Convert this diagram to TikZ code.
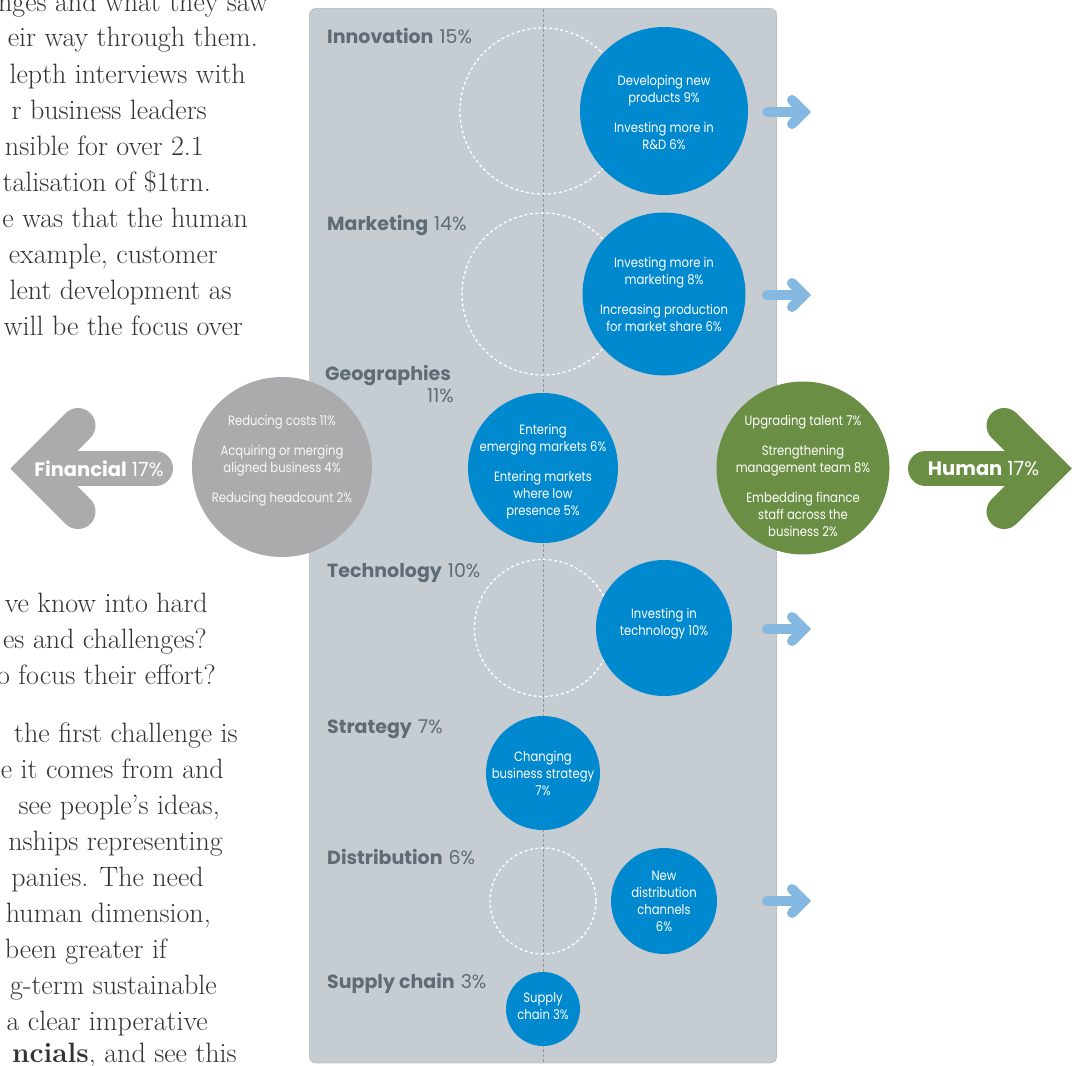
\documentclass[tikz,border=0pt]{standalone}
\usepackage{fontspec}
\newfontfamily\fut[FakeStretch=0.86]{Poppins}
\newfontfamily\futw{Poppins}
\definecolor{panelc}{HTML}{C5CCD2}
\definecolor{pborder}{HTML}{A3A9AE}
\definecolor{clinec}{HTML}{8E959A}
\definecolor{blu}{HTML}{0089CF}
\definecolor{grn}{HTML}{6A8F44}
\definecolor{gry}{HTML}{ABABAE}
\definecolor{lblc}{HTML}{5F6C75}
\definecolor{arrc}{HTML}{85B9E2}
\definecolor{bodyc}{HTML}{333333}
\begin{document}
\begin{tikzpicture}[x=1pt,y=-1pt,
  lbl/.style={font=\futw\fontsize{19}{22}\selectfont, text=lblc, inner sep=0pt},
  arrlbl/.style={font=\futw\fontsize{19.5}{22}\selectfont, text=white, inner sep=0pt},
  ctext/.style={font=\fut\fontsize{13.5}{17}\selectfont, text=white, align=center, inner sep=0pt},
  bodyline/.style={font=\fontsize{28}{36}\selectfont, text=bodyc, anchor=base east, inner sep=0pt},
  dcirc/.style={circle, draw=white, dash pattern=on 3pt off 2.5pt, line width=1.3pt, inner sep=0pt},
  bcirc/.style={circle, fill=blu, inner sep=0pt},
  barrow/.style={arrc, line width=10pt, line cap=round, line join=miter},
  bigarrow/.style={line width=35pt, line cap=round, line join=miter},
]
\useasboundingbox (0,0) rectangle (1078,1065);
\begin{scope}
\clip (0,0) rectangle (1078,1065);

% ---------- body text (left) ----------
\node[bodyline] (t1) at (268,12) {nges and what they saw};
\node[bodyline] (t2) at (258,47) {eir way through them.};
\node[bodyline] (t3) at (246,83) {lepth interviews with};
\node[bodyline] (t4) at (207,119) {r business leaders};
\node[bodyline] (t5) at (204,155) {nsible for over 2.1};
\node[bodyline] (t6) at (211,191) {talisation of \$1trn.};
\node[bodyline] (t7) at (248,227) {e was that the human};
\node[bodyline] (t8) at (218,263) {example, customer};
\node[bodyline] (t9) at (232,299) {lent development as};
\node[bodyline] (t10) at (243,335) {will be the focus over};
\node[bodyline] (u1) at (208,612) {ve know into hard};
\node[bodyline] (u2) at (207,648) {es and challenges?};
\node[bodyline] (u3) at (216,684) {o focus their effort?};
\node[bodyline] (u4) at (238,742) {the first challenge is};
\node[bodyline] (u5) at (224,778) {e it comes from and};
\node[bodyline] (u6) at (220,814) {see people’s ideas,};
\node[bodyline] (u7) at (223,850) {nships representing};
\node[bodyline] (u8) at (204,886) {panies. The need};
\node[bodyline] (u9) at (211,922) {human dimension,};
\node[bodyline] (u10) at (167,958) {been greater if};
\node[bodyline] (u11) at (217,994) {g-term sustainable};
\node[bodyline] (u12) at (208,1030) {a clear imperative};
\node[bodyline] (u13) at (237,1062) {\textbf{ncials}, and see this};

% ---------- panel ----------
\draw[pborder, fill=panelc, dash pattern=on 1pt off 1pt, line width=0.8pt, rounded corners=6pt]
  (309.5,8.5) rectangle (776.5,1063);
\coordinate (ctop) at (543,9);
\coordinate (cbot) at (543,1063);
\draw[clinec, dash pattern=on 3pt off 2pt, line width=0.9pt] (ctop) -- (cbot);

% ---------- dashed ghost circles ----------
\node[dcirc, minimum size=166pt] (ginno) at (543,111) {};
\node[dcirc, minimum size=162pt] (gmark) at (543,294) {};
\node[dcirc, minimum size=137pt] (gtech) at (543,628) {};
\node[dcirc, minimum size=106pt] (gdist) at (543,901) {};

% ---------- filled circles ----------
\node[bcirc, minimum size=168pt] (cinno) at (664,111) {};
\node[bcirc, minimum size=163pt] (cmark) at (664,294) {};
\node[bcirc, minimum size=150pt] (cgeo) at (543,468) {};
\node[bcirc, minimum size=136pt] (ctech) at (664,628) {};
\node[bcirc, minimum size=114pt] (cstrat) at (543,773) {};
\node[bcirc, minimum size=106pt] (cdist) at (664,901) {};
\node[bcirc, minimum size=74pt] (csup) at (543,1009) {};
\node[circle, fill=gry, inner sep=0pt, minimum size=180pt] (cfin) at (282,467) {};
\node[circle, fill=grn, inner sep=0pt, minimum size=173pt] (chum) at (803,468) {};

% ---------- small blue arrows ----------
\foreach \n/\yy in {a1/112, a2/295, a3/629, a4/901}{
  \coordinate (\n s) at (767,\yy);
  \coordinate (\n e) at (800,\yy);
  \coordinate (\n v) at (804,\yy);
  \coordinate (\n u) at (792,\yy-12);
  \coordinate (\n d) at (792,\yy+12);
  \draw[barrow] (\n s) -- (\n e);
  \draw[barrow] (\n u) -- (\n v) -- (\n d);
}

% ---------- big arrows ----------
\coordinate (fs) at (155.5,468.5);
\coordinate (fe) at (60,468.5);
\coordinate (fv) at (35,468.5);
\coordinate (fu) at (78,425.5);
\coordinate (fd) at (78,511.5);
\draw[bigarrow, gry] (fs) -- (fe);
\draw[bigarrow, gry] (fu) -- (fv) -- (fd);
\node[arrlbl] (lfin) at (99,469) {\bfseries Financial\hspace{5pt}\mdseries 17\%};

\coordinate (hs) at (925.5,468.5);
\coordinate (he) at (1020,468.5);
\coordinate (hv) at (1047,468.5);
\coordinate (hu) at (1004,425.5);
\coordinate (hd) at (1004,511.5);
\draw[bigarrow, grn] (hs) -- (he);
\draw[bigarrow, grn] (hu) -- (hv) -- (hd);
\node[arrlbl] (lhum) at (983.5,469) {\bfseries Human\hspace{5pt}\mdseries 17\%};

% ---------- category labels ----------
\node[lbl, anchor=base west] (linno) at (327,44) {\bfseries Innovation\hspace{6pt}\mdseries 15\%};
\node[lbl, anchor=base west] (lmark) at (327,230) {\bfseries Marketing\hspace{6pt}\mdseries 14\%};
\node[lbl, anchor=base west] (lgeo) at (325,380) {\bfseries Geographies};
\node[lbl, anchor=base east] (lgeop) at (454,402) {11\%};
\node[lbl, anchor=base west] (ltech) at (327,577) {\bfseries Technology\hspace{6pt}\mdseries 10\%};
\node[lbl, anchor=base west] (lstrat) at (327,733) {\bfseries Strategy\hspace{6pt}\mdseries 7\%};
\node[lbl, anchor=base west] (ldist) at (327,864) {\bfseries Distribution\hspace{6pt}\mdseries 6\%};
\node[lbl, anchor=base west] (lsup) at (327,988) {\bfseries Supply chain\hspace{6pt}\mdseries 3\%};

% ---------- circle texts ----------
\node[ctext] (xinno) at (664,112) {Developing new\\products 9\%\\[13pt]Investing more in\\R\&D 6\%};
\node[ctext] (xmark) at (664,294) {Investing more in\\marketing 8\%\\[13pt]Increasing production\\for market share 6\%};
\node[ctext] (xgeo) at (543,472) {Entering\\emerging markets 6\%\\[13pt]Entering markets\\where low\\presence 5\%};
\node[ctext, text=white!95!gray] (xfin) at (282,461) {Reducing costs 11\%\\[13pt]Acquiring or merging\\aligned business 4\%\\[13pt]Reducing headcount 2\%};
\node[ctext] (xhum) at (803,476) {Upgrading talent 7\%\\[13pt]Strengthening\\management team 8\%\\[13pt]Embedding finance\\staff across the\\business 2\%};
\node[ctext] (xtech) at (664,624) {Investing in\\technology 10\%};
\node[ctext] (xstrat) at (543,773) {Changing\\business strategy\\7\%};
\node[ctext] (xdist) at (664,901) {New\\distribution\\channels\\6\%};
\node[ctext] (xsup) at (543,1006) {Supply\\chain 3\%};
\end{scope}
\end{tikzpicture}
\end{document}
